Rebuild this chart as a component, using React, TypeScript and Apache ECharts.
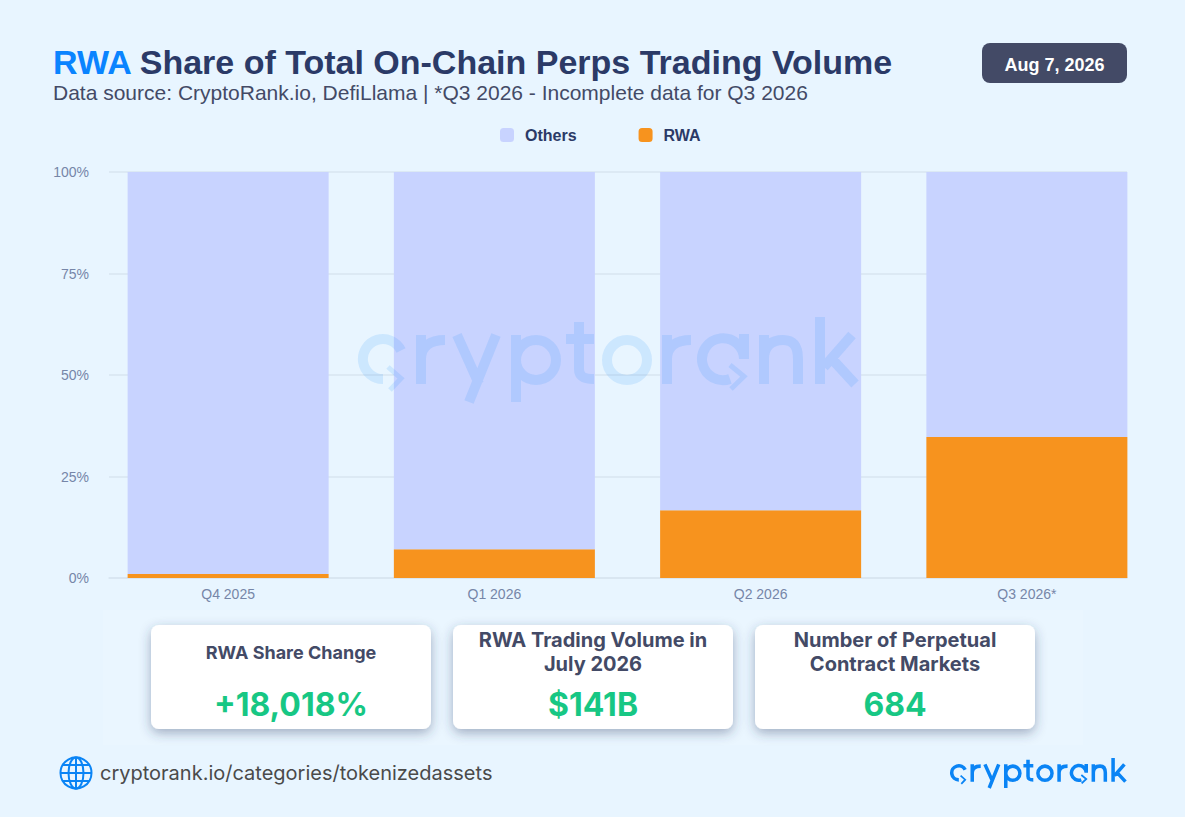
import React, { useEffect, useRef } from "react";
import * as echarts from "echarts";

const categories = ["Q4 2025", "Q1 2026", "Q2 2026", "Q3 2026*"];
const rwaShare = [1, 7.1, 16.7, 34.7];
const othersShare = [99, 92.9, 83.3, 65.3];
const cardTitles = [
  ["RWA Share Change"],
  ["RWA Trading Volume in", "July 2026"],
  ["Number of Perpetual", "Contract Markets"],
];
const cardValues = ["+18,018%", "$141B", "684"];

const LOGO_D =
  "M43,33.5 A20,20 0 1 0 25,62 " +
  "M63,67 V18 M63,42 C63,29 72,23 87,23 " +
  "M99,18 L121,67 M138,18 L111,85 " +
  "M158,85 V18 M198,43 A20,20 0 1 1 158,43 A20,20 0 1 1 198,43 " +
  "M221,5 V52 C221,60 226,62 236,62 M208,22 H236 " +
  "M289,43 A20,20 0 1 1 249,43 A20,20 0 1 1 289,43 " +
  "M309,67 V18 M309,42 C309,29 318,23 333,23 " +
  "M386,17 V42 A21,21 0 1 0 372,62 " +
  "M406,67 V18 M406,42 C406,28 414,23 425,23 C436,23 440,30 440,42 V67 " +
  "M462,0 V67 M494,18 L466,50 M474,42 L497,67";
const CHEVRON_D = "M30,50 L43,61.5 L32,73 M372,48 L386,59.5 L373,72";

echarts.graphic.registerShape("crLogo", echarts.graphic.extendPath(LOGO_D as any, {}) as any);
echarts.graphic.registerShape("crChevron", echarts.graphic.extendPath(CHEVRON_D as any, {}) as any);

const ARIAL = "Liberation Sans";
const INTER = "Inter";
const NAVY = "#2B3A67";
const SLATE = "#434A66";
const AXIS = "#7686A8";
const GRID = "#D8E5F1";
const BLUE = "#0A84F5";
const GREEN = "#17C784";

function logo(x: number, y: number, s: number, stroke: string, opacity: number, z: number) {
  return [
    { type: "crLogo", x, y, scaleX: s, scaleY: s, z, silent: true,
      style: { fill: "none", stroke, lineWidth: 10, opacity } },
    { type: "crChevron", x, y, scaleX: s, scaleY: s, z, silent: true,
      style: { fill: "none", stroke, lineWidth: 5, opacity } },
  ];
}

function cards() {
  const out: any[] = [
    { type: "rect", z: 1, shape: { x: 103, y: 610, width: 980, height: 135 }, style: { fill: "#EAF6FF" } },
  ];
  const xs = [151, 453, 755];
  xs.forEach((x, i) => {
    out.push({
      type: "rect", z: 10,
      shape: { x, y: 625, width: 280, height: 104, r: 8 },
      style: { fill: "#FFFFFF", shadowBlur: 12, shadowOffsetY: 4, shadowColor: "rgba(45,65,105,0.4)" },
    });
    const lines = cardTitles[i];
    const ys = lines.length === 1 ? [652] : [640, 664];
    const size = lines.length === 1 ? 18 : 20;
    lines.forEach((t, j) => {
      out.push({
        type: "text", z: 11, x: x + 140, y: ys[j],
        style: { text: t, fill: SLATE, font: `700 ${size}px ${INTER}`, align: "center", verticalAlign: "middle" },
      });
    });
    out.push({
      type: "text", z: 11, x: x + 140, y: 704,
      style: { text: cardValues[i], fill: GREEN, font: `700 32px ${INTER}`, align: "center", verticalAlign: "middle" },
    });
  });
  return out;
}

function globe() {
  const s = { fill: "none", stroke: BLUE, lineWidth: 2 };
  return [
    { type: "circle", shape: { cx: 76, cy: 773, r: 15.5 }, style: s },
    { type: "ellipse", shape: { cx: 76, cy: 773, rx: 7.5, ry: 15.5 }, style: s },
    { type: "line", shape: { x1: 76, y1: 757.5, x2: 76, y2: 788.5 }, style: s },
    { type: "line", shape: { x1: 60.5, y1: 773, x2: 91.5, y2: 773 }, style: s },
    { type: "line", shape: { x1: 63, y1: 765, x2: 89, y2: 765 }, style: s },
    { type: "line", shape: { x1: 63, y1: 781, x2: 89, y2: 781 }, style: s },
  ];
}

export default function App() {
  const ref = useRef<HTMLDivElement>(null);
  useEffect(() => {
    document.body.style.margin = "0";
    const chart = echarts.init(ref.current!, undefined, { renderer: "svg" });
    chart.setOption({
      animation: false,
      backgroundColor: "#E8F5FF",
      title: {
        left: 53, top: 43, padding: 0, itemGap: 3,
        text: "{a|RWA} {b|Share of Total On-Chain Perps Trading Volume}",
        textStyle: {
          rich: {
            a: { fontFamily: ARIAL, fontWeight: 700, fontSize: 34, lineHeight: 38, color: "#0A84FF", padding: [0, 3, 0, 0] },
            b: { fontFamily: ARIAL, fontWeight: 700, fontSize: 34, lineHeight: 38, color: NAVY },
          },
        },
        subtext: "Data source: CryptoRank.io, DefiLlama | *Q3 2026 - Incomplete data for Q3 2026",
        subtextStyle: { fontFamily: ARIAL, fontSize: 21, color: SLATE, lineHeight: 24 },
      },
      legend: {
        left: 500, top: 127, itemWidth: 14, itemHeight: 14, itemGap: 62, padding: 0,
        icon: "roundRect",
        data: ["Others", "RWA"],
        selectedMode: false,
        textStyle: { fontFamily: ARIAL, fontWeight: 700, fontSize: 16, color: NAVY, padding: [0, 0, 0, 6] },
      },
      grid: [
        { left: 95, right: 25, top: 172, bottom: 239 },
        { left: 109, right: 58, top: 172, bottom: 239 },
      ],
      xAxis: [
        {
          type: "category", gridIndex: 0, data: categories,
          axisTick: { show: false },
          axisLine: { show: false },
          axisLabel: { fontFamily: ARIAL, fontSize: 14, color: AXIS, margin: 9 },
        },
        {
          type: "category", gridIndex: 1, data: categories,
          axisTick: { show: false },
          axisLabel: { show: false },
          axisLine: { lineStyle: { color: GRID, width: 1.5 } },
        },
      ],
      yAxis: [
        { type: "value", gridIndex: 0, min: 0, max: 100, interval: 25, show: false, splitLine: { show: false } },
        {
          type: "value", gridIndex: 1, min: 0, max: 100, interval: 25,
          axisLabel: { fontFamily: ARIAL, fontSize: 14, color: AXIS, margin: 20, formatter: "{value}%" },
          splitLine: { lineStyle: { color: GRID, width: 1.5 } },
        },
      ],
      series: [
        { name: "RWA", type: "bar", stack: "s", barWidth: "75.5%", data: rwaShare, itemStyle: { color: "#F7931E" } },
        { name: "Others", type: "bar", stack: "s", barWidth: "75.5%", data: othersShare, itemStyle: { color: "#C8D3FF" } },
      ],
      graphic: [
        ...logo(358, 317, 1, BLUE, 0.12, 50),
        { type: "rect", shape: { x: 982, y: 43, width: 145, height: 40, r: 8 }, style: { fill: SLATE } },
        { type: "text", x: 1054.5, y: 64.5, z: 2,
          style: { text: "Aug 7, 2026", fill: "#FFFFFF", font: `700 18px ${ARIAL}`, align: "center", verticalAlign: "middle" } },
        ...cards(),
        ...globe(),
        { type: "text", x: 100, y: 773,
          style: { text: "cryptorank.io/categories/tokenizedassets", fill: "#4A4A4A", font: `400 20px ${INTER}`, align: "left", verticalAlign: "middle" } },
        ...logo(950, 758, 0.353, BLUE, 1, 5),
      ],
    });
    return () => chart.dispose();
  }, []);
  return <div ref={ref} style={{ position: "absolute", left: 0, top: 0, width: 1185, height: 817 }} />;
}
